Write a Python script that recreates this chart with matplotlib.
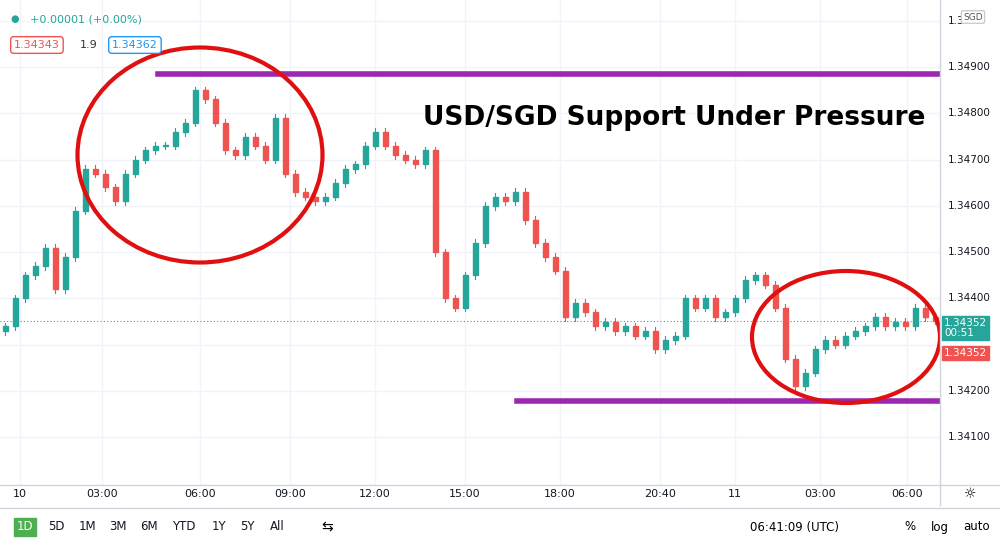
import matplotlib
matplotlib.use("Agg")
import matplotlib.pyplot as plt
from matplotlib.patches import Ellipse, Rectangle

# ~20-minute closes
closes = [
    1.3434, 1.3440, 1.3445, 1.3447, 1.3451, 1.3442, 1.3449, 1.3459, 1.3468, 1.3467,
    1.3464, 1.3461, 1.3467, 1.3470, 1.3472, 1.3473, 1.3473, 1.3476, 1.3478, 1.3485,
    1.3483, 1.3478, 1.3472, 1.3471, 1.3475, 1.3473, 1.3470, 1.3479, 1.3467, 1.3463,
    1.3462, 1.3461, 1.3462, 1.3465, 1.3468, 1.3469, 1.3473, 1.3476, 1.3473, 1.3471,
    1.3470, 1.3469, 1.3472, 1.3450, 1.3440, 1.3438, 1.3445, 1.3452, 1.3460, 1.3462,
    1.3461, 1.3463, 1.3457, 1.3452, 1.3449, 1.3446, 1.3436, 1.3439, 1.3437, 1.3434,
    1.3435, 1.3433, 1.3434, 1.3432, 1.3433, 1.3429, 1.3431, 1.3432, 1.3440, 1.3438,
    1.3440, 1.3436, 1.3437, 1.3440, 1.3444, 1.3445, 1.3443, 1.3438, 1.3427, 1.3421,
    1.3424, 1.3429, 1.3431, 1.3430, 1.3432, 1.3433, 1.3434, 1.3436, 1.3434, 1.3435,
    1.3434, 1.3438, 1.3436, 1.34352,
]
first_open = 1.3433
time_labels = ["10", "03:00", "06:00", "09:00", "12:00", "15:00", "18:00", "20:40", "11", "03:00", "06:00"]
time_pos = [20, 102, 200, 290, 375, 465, 560, 660, 735, 820, 907]
price_ticks = [1.341, 1.342, 1.344, 1.345, 1.346, 1.347, 1.348, 1.349]  # 1.343 hidden by price tags
last_price = 1.34352
resistance = 1.34885
support = 1.34178

W, H = 1000, 539
fig = plt.figure(figsize=(W / 100, H / 100), dpi=100)
ax = fig.add_axes([0, 54 / H, 0.94, 485 / H])
ylo, yhi = 1.33997, 1.35045
ax.set_xlim(0, 940)
ax.set_ylim(ylo, yhi)
for s in ax.spines.values():
    s.set_visible(False)
ax.set_xticks([])
ax.set_yticks([])

for p in price_ticks + [1.343, 1.350]:
    ax.axhline(p, color="#f0f3fa", lw=1, zorder=0)
for t in time_pos:
    ax.axvline(t, color="#f0f3fa", lw=1, zorder=0)

green, red = "#26a69a", "#ef5350"
prev = first_open
for i, c in enumerate(closes):
    x = 5 + 10 * i
    col = green if c >= prev else red
    lo, hi = min(prev, c), max(prev, c)
    ax.plot([x, x], [lo - 0.00008, hi + 0.00008], color=col, lw=0.8, zorder=2)
    ax.add_patch(Rectangle((x - 2.5, lo), 5, max(hi - lo, 0.00002), color=col, zorder=3))
    prev = c

ax.axhline(last_price, color="#26a69a", lw=0.8, ls=(0, (1, 2)), zorder=1)
ax.plot([158, 940], [resistance] * 2, color="#9c27b0", lw=4, zorder=4)
ax.plot([517, 940], [support] * 2, color="#9c27b0", lw=4, zorder=4)

def py(ypx):
    return yhi - ypx / 485 * (yhi - ylo)

for cx, cy, w, h in [(200, 155, 245, 215), (846, 337, 188, 132)]:
    ax.add_patch(Ellipse((cx, (py(cy - h / 2) + py(cy + h / 2)) / 2), w,
                         py(cy - h / 2) - py(cy + h / 2), fill=False,
                         ec="#e01010", lw=3, zorder=5))

ax.text(925, py(118), "USD/SGD Support Under Pressure", ha="right", va="center",
        fontsize=19, fontweight="bold", zorder=6)

# right price scale
fig.add_artist(plt.Line2D([940 / W] * 2, [1 - 505 / H, 1], color="#d1d4dc", lw=1))
for p in price_ticks:
    fig.text(948 / W, (1 - (485 - (p - ylo) / (yhi - ylo) * 485) / H), f"{p:.5f}",
             fontsize=7.5, va="center", color="#131722")
fig.text(948 / W, 1 - 21 / H, "1.3", fontsize=7.5, va="center", color="#131722")
fig.text(973 / W, 1 - 17 / H, "SGD", fontsize=6.5, va="center", ha="center", color="#555",
         bbox=dict(boxstyle="round,pad=0.2", fc="white", ec="#ccc"))
fig.text(944 / W, 1 - 328 / H, "1.34352\n00:51", fontsize=7.5, va="center", color="white",
         linespacing=1.1, bbox=dict(boxstyle="square,pad=0.15", fc=green, ec=green))
fig.text(944 / W, 1 - 353 / H, "1.34352", fontsize=7.5, va="center", color="white",
         bbox=dict(boxstyle="square,pad=0.15", fc=red, ec=red))

# time axis
fig.add_artist(plt.Line2D([0, 1], [1 - 485 / H] * 2, color="#d1d4dc", lw=1))
fig.add_artist(plt.Line2D([0, 1], [1 - 508 / H] * 2, color="#d1d4dc", lw=1))
for lab, t in zip(time_labels, time_pos):
    fig.text(t / W, 1 - 494 / H, lab, ha="center", va="center", fontsize=8, color="#131722")
fig.text(970 / W, 1 - 494 / H, "☼", ha="center", va="center", fontsize=10)

# legend top-left
fig.text(10 / W, 1 - 19 / H, "●", color=green, fontsize=7, va="center")
fig.text(30 / W, 1 - 19 / H, "+0.00001 (+0.00%)", color=green, fontsize=8, va="center")
fig.text(14 / W, 1 - 45 / H, "1.34343", color=red, fontsize=8, va="center",
         bbox=dict(boxstyle="round,pad=0.3", fc="white", ec=red))
fig.text(80 / W, 1 - 45 / H, "1.9", color="#333", fontsize=8, va="center")
fig.text(112 / W, 1 - 45 / H, "1.34362", color="#2196f3", fontsize=8, va="center",
         bbox=dict(boxstyle="round,pad=0.3", fc="white", ec="#2196f3"))

# bottom toolbar
tb = ["1D", "5D", "1M", "3M", "6M", "YTD", "1Y", "5Y", "All"]
tbx = [25, 56, 87, 118, 149, 184, 219, 247, 277]
for lab, x in zip(tb, tbx):
    kw = dict(bbox=dict(boxstyle="square,pad=0.25", fc="#4caf50", ec="#4caf50")) if lab == "1D" else {}
    fig.text(x / W, 1 - 527 / H, lab, ha="center", va="center", fontsize=8.5,
             color="white" if lab == "1D" else "#131722", **kw)
fig.text(327 / W, 1 - 527 / H, "⇆", ha="center", va="center", fontsize=10)
fig.text(750 / W, 1 - 527 / H, "06:41:09 (UTC)", ha="left", va="center", fontsize=8.5)
fig.text(910 / W, 1 - 527 / H, "%", ha="center", va="center", fontsize=8.5)
fig.text(940 / W, 1 - 527 / H, "log", ha="center", va="center", fontsize=8.5)
fig.text(977 / W, 1 - 527 / H, "auto", ha="center", va="center", fontsize=8.5)

fig.savefig("out.png", dpi=100)
